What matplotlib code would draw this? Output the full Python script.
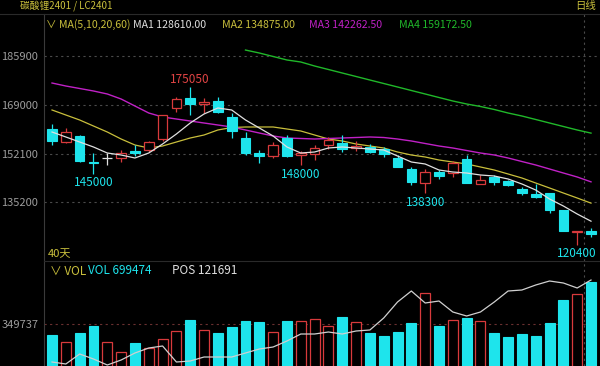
import numpy as np
import matplotlib.pyplot as plt

plt.rcParams['font.family'] = ['Noto Sans CJK SC', 'DejaVu Sans']

# 碳酸锂2401 日线, 最近 40 天
opens = np.array([160600, 156090, 158170, 149150, 150370, 150540, 153140, 153310, 157130, 167890,
                  171360, 169280, 170320, 164770, 157480, 152270, 151230, 157480, 151580, 151930,
                  155050, 155750, 154010, 154360, 153660, 150540, 146720, 141860, 145680, 145330,
                  150020, 141520, 143950, 142560, 139780, 138050, 138390, 132500, 124860, 125200])
highs = np.array([162340, 160950, 158520, 152270, 152270, 153310, 155050, 156440, 165460, 171710,
                  175050, 171360, 171710, 166150, 159560, 153310, 156090, 158520, 152960, 155050,
                  157830, 158520, 156440, 155400, 154360, 151580, 147420, 146720, 146380, 149500,
                  151580, 144640, 144640, 142900, 140480, 141510, 138390, 132500, 125200, 126240])
lows = np.array([155050, 155740, 149150, 145000, 148110, 149150, 151230, 152620, 156440, 166500,
                 165460, 166150, 166150, 157480, 151580, 148800, 150540, 150890, 148000, 149850,
                 153660, 152620, 152970, 152270, 150890, 147420, 141170, 138300, 143250, 143940,
                 141860, 141520, 141340, 140830, 137530, 136660, 131450, 125200, 120400, 123130])
closes = np.array([156440, 159560, 149500, 148800, 150370, 152270, 152270, 156090, 165290, 171010,
                   169280, 169800, 166500, 159910, 152270, 151230, 155050, 151400, 152270, 154010,
                   156790, 153660, 154530, 152620, 151930, 147420, 142210, 145680, 144290, 148800,
                   141860, 142900, 142380, 141170, 138390, 137010, 132500, 125200, 125200, 124160])

ma5 = np.array([159560, 157830, 156090, 154360, 152270, 151580, 150540, 152270, 155400, 158870,
                162680, 165810, 167890, 167200, 163730, 160950, 158170, 154360, 152270, 152620,
                154010, 154360, 154010, 153660, 153320, 151230, 149150, 148460, 146370, 145680,
                145330, 144640, 144290, 143250, 141520, 139430, 136310, 133880, 131110, 128610])
ma10 = np.array([167200, 165460, 163730, 161640, 159560, 157130, 155050, 154010, 154700, 156090,
                 157480, 158520, 160260, 161120, 161300, 161300, 161300, 160600, 159910, 158520,
                 157130, 156440, 155400, 154700, 154010, 152620, 151580, 150890, 149840, 149150,
                 148460, 147420, 146370, 144990, 143600, 141860, 140130, 138390, 136660, 134875])
ma20 = np.array([176560, 175520, 174660, 173790, 172750, 171010, 168580, 166150, 164770, 164070,
                 163380, 162680, 161990, 161300, 160260, 159210, 158170, 157480, 157310, 157130,
                 157310, 157480, 157650, 157830, 157650, 157130, 156440, 155570, 154700, 154010,
                 153140, 152270, 151580, 150540, 149320, 148110, 146720, 145330, 143950, 142262.5])
ma60 = np.array([np.nan] * 14 +
                [188000, 186970, 185760, 184550, 183850, 182460, 181250, 180030, 178820, 177600,
                 176390, 175180, 173960, 172750, 171530, 170320, 169280, 168410, 167370, 166150,
                 165110, 163900, 162680, 161470, 160260, 159172.5])

vol = np.array([263330, 205730, 279790, 337390, 205730, 123440, 197500, 156350, 230410, 296240,
                386760, 304470, 279790, 329160, 378530, 370310, 288020, 378530, 378530, 394990,
                337390, 411450, 370310, 279790, 255100, 288020, 362080, 608950, 337390, 386760,
                403220, 378530, 279790, 246870, 271560, 255100, 362080, 551340, 600720, 699474])
pos = np.array([88890, 88090, 92091, 90091, 87691, 89691, 92491, 94491, 95291, 88891,
                89291, 90891, 90891, 90891, 92491, 94091, 94891, 97291, 100091, 100091,
                100891, 100091, 101291, 101691, 106491, 112891, 117291, 112491, 113291, 108891,
                107291, 108891, 112891, 117291, 117691, 119691, 121291, 120491, 118491, 121691])

price_ticks = [185900, 169000, 152100, 135200]
vol_ticks = [349737]
low_marks = [3, 18, 27, 38]

CYAN = '#1ee4ec'
RED = '#d83a3c'
WHITE = '#e0e0e0'
YELLOW = '#c9bf3c'
PURPLE = '#c021c6'
GREEN = '#20b82a'
GRID = '#4a4a4a'
TXT = '#9c9c9c'

x = np.arange(len(closes))
W, H = 600, 366
fig = plt.figure(figsize=(W / 100, H / 100), dpi=100, facecolor='black')


def px_axes(left, top, right, bottom):
    return fig.add_axes([left / W, 1 - bottom / H, (right - left) / W, (bottom - top) / H])


ax = px_axes(44, 14, 600, 261)
axv = px_axes(44, 261, 600, 366)
for a in (ax, axv):
    a.set_facecolor('black')
    a.set_xlim(-0.58, 39.65)
    for s in ('top', 'right', 'bottom'):
        a.spines[s].set_visible(False)
    a.spines['left'].set_color('#3a3a3a')
    a.set_xticks([])
    a.tick_params(axis='y', length=0, pad=4, colors=TXT, labelsize=8)
    a.axvline(len(x) - 1.5, color=GRID, ls=(0, (2, 3)), lw=0.8)
axv.spines['top'].set_visible(True)
axv.spines['top'].set_color('#2a2a2a')

# price panel
ax.set_ylim(114798, 200506)
ax.set_yticks(price_ticks)
ax.set_yticklabels([str(t) for t in price_ticks])
ax.grid(axis='y', color=GRID, ls=(0, (2, 3)), lw=0.8)

up = closes > opens
down = closes < opens
flat = closes == opens
body_lo = np.minimum(opens, closes)
body_h = np.abs(closes - opens)
colors = np.where(up, RED, np.where(down, CYAN, WHITE))

ax.vlines(x, lows, highs, colors=colors, lw=0.9, zorder=3)
ax.bar(x[down], body_h[down], bottom=body_lo[down], width=0.7, color=CYAN,
       edgecolor=CYAN, lw=0.8, zorder=4)
ax.bar(x[up], body_h[up], bottom=body_lo[up], width=0.7, facecolor='black',
       edgecolor=RED, lw=0.9, zorder=4)
ax.bar(x[flat], body_h[flat], bottom=body_lo[flat], width=0.7, color=WHITE,
       edgecolor=WHITE, lw=0.9, zorder=4)

ax.plot(x, ma5, color=WHITE, lw=0.9, zorder=5)
ax.plot(x, ma10, color=YELLOW, lw=0.9, zorder=2)
ax.plot(x, ma20, color=PURPLE, lw=1.0, zorder=2)
ax.plot(x, ma60, color=GREEN, lw=1.0, zorder=2)

hi = int(np.argmax(highs))
ax.annotate(str(highs[hi]), (x[hi], highs[hi]), xytext=(0, 6), textcoords='offset points',
            ha='center', va='center', color='#e04444', fontsize=8.5)
for i in low_marks:
    ax.annotate(str(lows[i]), (x[i], lows[i]), xytext=(0, -6.5), textcoords='offset points',
                ha='center', va='center', color=CYAN, fontsize=8.5)

# volume panel
axv.set_ylim(8229, 872274)
axv.set_yticks(vol_ticks)
axv.set_yticklabels([str(t) for t in vol_ticks])
axv.grid(axis='y', color='#6a3030', ls=(0, (2, 3)), lw=0.8)
vred = closes >= opens
axv.bar(x[~vred], vol[~vred], width=0.72, color=CYAN, edgecolor=CYAN, lw=0.8, zorder=3)
axv.bar(x[vred], vol[vred], width=0.72, facecolor='black', edgecolor=RED, lw=0.9, zorder=3)
axp = axv.twinx()
axp.set_ylim(87291, 129291)
axp.axis('off')
axp.plot(x, pos, color='#d0d0d0', lw=0.9, zorder=5)


def ftext(px, py, s, color, size=8.5):
    fig.text(px / W, 1 - py / H, s, color=color, fontsize=size, ha='left', va='center')


# header
fig.add_artist(plt.Line2D([0, 1], [1 - 13.5 / H] * 2, color='#2a2a2a', lw=0.8))
ftext(20, 6, '碳酸锂2401 / LC2401', YELLOW, 7)
ftext(575, 6, '日线', YELLOW, 7.5)
ftext(46, 25, '\u2228 MA(5,10,20,60)', YELLOW, 7.6)
ftext(133, 25, f'MA1 {ma5[-1]:.2f}', WHITE, 7.6)
ftext(222, 25, f'MA2 {ma10[-1]:.2f}', YELLOW, 7.6)
ftext(309, 25, f'MA3 {ma20[-1]:.2f}', PURPLE, 7.6)
ftext(399, 25, f'MA4 {ma60[-1]:.2f}', GREEN, 7.6)
ftext(48, 254, f'{len(x)}天', YELLOW, 8)
ftext(50, 271, '\u2228 VOL', YELLOW)
ftext(88, 271, f'VOL {vol[-1]}', CYAN)
ftext(172, 271, f'POS {pos[-1]}', WHITE)

fig.savefig('out.png', dpi=100, facecolor='black')
